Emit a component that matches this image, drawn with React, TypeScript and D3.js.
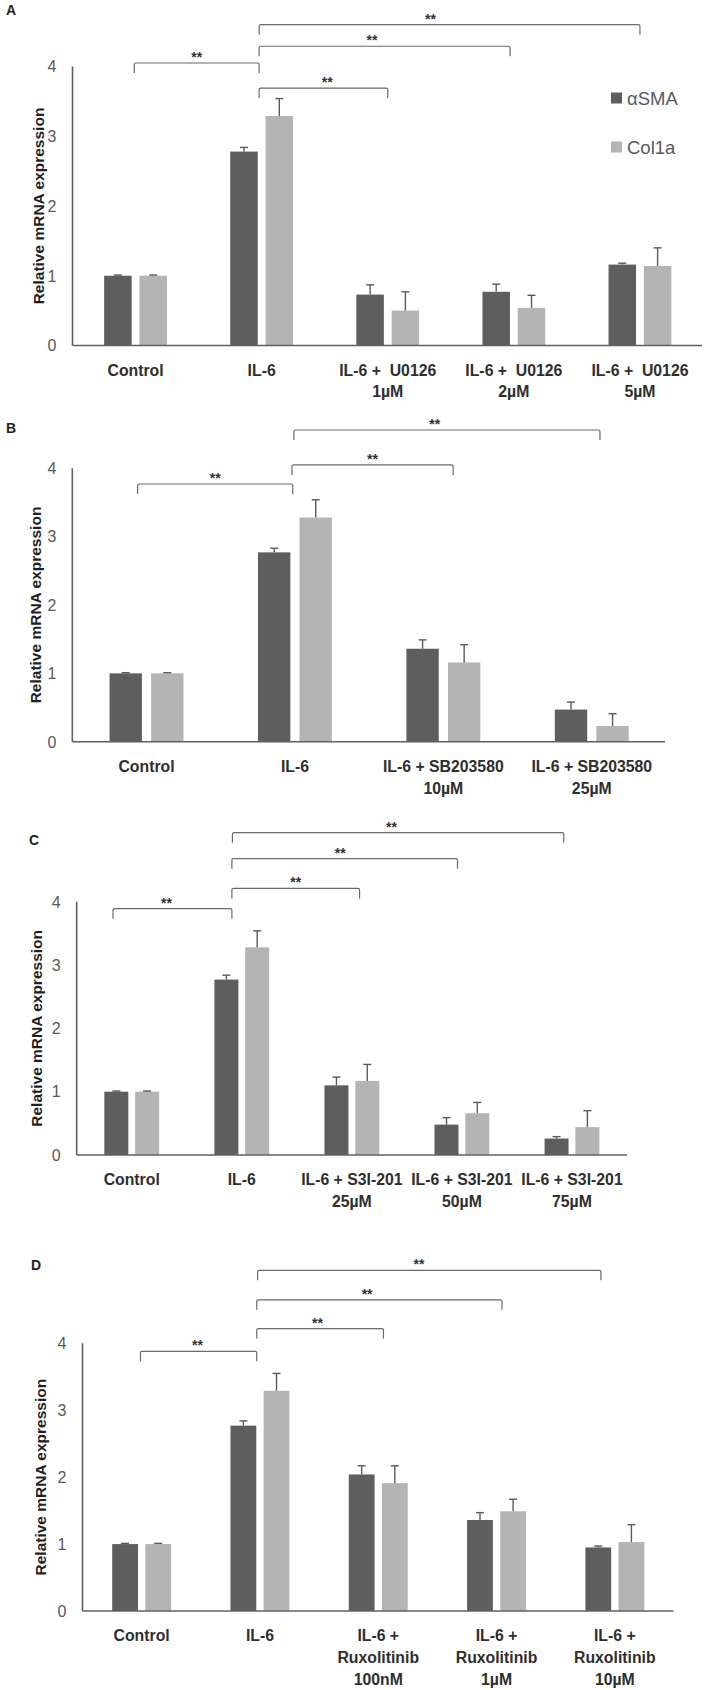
import React from "react";
import * as d3 from "d3";

// ---------- DATA ----------
const seriesNames = ["αSMA", "Col1a"];
const yTicks = [0, 1, 2, 3, 4];

const categoriesA = [["Control"], ["IL-6"], ["IL-6 +\u00A0 U0126", "1µM"], ["IL-6 +\u00A0 U0126", "2µM"], ["IL-6 +\u00A0 U0126", "5µM"]];
const smaA = [1.0, 2.78, 0.73, 0.77, 1.16];
const smaErrA = [0.01, 0.06, 0.14, 0.11, 0.02];
const colA = [1.0, 3.29, 0.5, 0.54, 1.14];
const colErrA = [0.01, 0.25, 0.27, 0.18, 0.26];

const categoriesB = [["Control"], ["IL-6"], ["IL-6 + SB203580", "10µM"], ["IL-6 + SB203580", "25µM"]];
const smaB = [1.0, 2.77, 1.36, 0.47];
const smaErrB = [0.01, 0.06, 0.13, 0.11];
const colB = [1.0, 3.28, 1.16, 0.23];
const colErrB = [0.01, 0.26, 0.26, 0.18];

const categoriesC = [["Control"], ["IL-6"], ["IL-6 + S3I-201", "25µM"], ["IL-6 + S3I-201", "50µM"], ["IL-6 + S3I-201", "75µM"]];
const smaC = [1.0, 2.77, 1.1, 0.48, 0.26];
const smaErrC = [0.01, 0.07, 0.13, 0.11, 0.03];
const colC = [1.0, 3.28, 1.17, 0.66, 0.44];
const colErrC = [0.01, 0.26, 0.26, 0.17, 0.26];

const categoriesD = [["Control"], ["IL-6"], ["IL-6 +", "Ruxolitinib", "100nM"], ["IL-6 +", "Ruxolitinib", "1µM"], ["IL-6 +", "Ruxolitinib", "10µM"]];
const smaD = [1.0, 2.77, 2.04, 1.36, 0.95];
const smaErrD = [0.01, 0.07, 0.13, 0.11, 0.02];
const colD = [1.0, 3.29, 1.91, 1.49, 1.03];
const colErrD = [0.01, 0.26, 0.26, 0.18, 0.26];

// significance brackets: from/to category, level (in y units), label
const bracketsA = [
  { from: 0, to: 1, level: 4.05, label: "**" },
  { from: 1, to: 2, level: 3.69, label: "**" },
  { from: 1, to: 3, level: 4.29, label: "**" },
  { from: 1, to: 4, level: 4.6, label: "**" },
];
const bracketsB = [
  { from: 0, to: 1, level: 3.77, label: "**" },
  { from: 1, to: 2, level: 4.05, label: "**" },
  { from: 1, to: 3, level: 4.56, label: "**" },
];
const bracketsC = [
  { from: 0, to: 1, level: 3.89, label: "**" },
  { from: 1, to: 2, level: 4.21, label: "**" },
  { from: 1, to: 3, level: 4.68, label: "**" },
  { from: 1, to: 4, level: 5.09, label: "**" },
];
const bracketsD = [
  { from: 0, to: 1, level: 3.88, label: "**" },
  { from: 1, to: 2, level: 4.22, label: "**" },
  { from: 1, to: 3, level: 4.65, label: "**" },
  { from: 1, to: 4, level: 5.09, label: "**" },
];

// ---------- LAYOUT / STYLE ----------
const W = 706;
const H = 1690;
const DARK = "#5e5e5e";
const LIGHT = "#b4b4b4";
const AXIS = "#606060";
const FONT = "'Liberation Sans', Arial, sans-serif";

// bracket end nudges (fraction of band step) and star position along bracket
const bracketNudgeA = [[-0.01, -0.02, 0.5], [-0.02, 0.0, 0.53], [-0.02, -0.03, 0.45], [-0.02, 0.0, 0.45]];
const bracketNudgeB = [[-0.06, -0.015, 0.5], [-0.02, 0.066, 0.5], [-0.007, 0.055, 0.46]];
const bracketNudgeC = [[-0.17, -0.09, 0.45], [-0.09, 0.07, 0.5], [-0.09, -0.04, 0.48], [-0.085, -0.075, 0.48]];
const bracketNudgeD = [[-0.01, -0.027, 0.49], [-0.027, 0.044, 0.48], [-0.027, 0.046, 0.45], [-0.02, -0.118, 0.47]];

const panels = [
  { letter: "A", lx: 6, ly: 10, left: 72.5, right: 703, axisEnd: 702, y0: 345.5, y4: 66.5, titleX: 38,
    cats: categoriesA, sma: smaA, smaErr: smaErrA, col: colA, colErr: colErrA, brackets: bracketsA, nudge: bracketNudgeA, legend: true },
  { letter: "B", lx: 6, ly: 428, left: 72.3, right: 666, axisEnd: 665, y0: 741.7, y4: 468.3, titleX: 35,
    cats: categoriesB, sma: smaB, smaErr: smaErrB, col: colB, colErr: colErrB, brackets: bracketsB, nudge: bracketNudgeB, legend: false },
  { letter: "C", lx: 29, ly: 840, left: 76.7, right: 627, axisEnd: 627, y0: 1155, y4: 901.7, titleX: 36,
    cats: categoriesC, sma: smaC, smaErr: smaErrC, col: colC, colErr: colErrC, brackets: bracketsC, nudge: bracketNudgeC, legend: false },
  { letter: "D", lx: 31, ly: 1265, left: 82.5, right: 674, axisEnd: 673.5, y0: 1611, y4: 1343.3, titleX: 40,
    cats: categoriesD, sma: smaD, smaErr: smaErrD, col: colD, colErr: colErrD, brackets: bracketsD, nudge: bracketNudgeD, legend: false },
];

function Panel({ p }: { p: any }) {
  const n = p.cats.length;
  const x = d3.scaleBand<number>().domain(d3.range(n)).range([p.left, p.right]).paddingInner(0).paddingOuter(0);
  const y = d3.scaleLinear().domain([0, 4]).range([p.y0, p.y4]);
  const step = x.step();
  const bw = step * 0.218;
  const gap = step * 0.062;
  const sub = d3.scaleOrdinal<string, number>().domain(seriesNames).range([-gap / 2 - bw, gap / 2]);
  const center = (i: number) => (x(i) as number) + step / 2;
  const series = [
    { name: seriesNames[0], vals: p.sma, errs: p.smaErr, color: DARK },
    { name: seriesNames[1], vals: p.col, errs: p.colErr, color: LIGHT },
  ];
  const tick = 10;
  return (
    <g>
      <text x={p.lx} y={p.ly + 5} fontFamily={FONT} fontWeight="bold" fontSize={14} fill="#222">{p.letter}</text>
      {/* y title */}
      <text
        transform={`translate(${p.titleX},${(p.y0 + p.y4) / 2}) rotate(-90)`}
        textAnchor="middle"
        dominantBaseline="central"
        fontFamily={FONT}
        fontWeight="bold"
        fontSize={15.5}
        fill="#1f1f1f"
      >
        Relative mRNA expression
      </text>
      {/* y tick labels */}
      {yTicks.map((t) => (
        <text key={t} x={p.left - 16} y={y(t) + 5.8} textAnchor="end" fontFamily={FONT} fontSize={16} fill="#595959">
          {t}
        </text>
      ))}
      {/* bars */}
      {series.map((s) =>
        s.vals.map((v: number, i: number) => {
          const bx = center(i) + (sub(s.name) as number);
          const top = y(v + s.errs[i]);
          const cx = bx + bw / 2;
          return (
            <g key={s.name + i}>
              <rect x={bx} y={y(v)} width={bw} height={y(0) - y(v)} fill={s.color} />
              <line x1={cx} x2={cx} y1={y(v)} y2={top} stroke="#5a5a5a" strokeWidth={1.4} />
              <line x1={cx - 4} x2={cx + 4} y1={top} y2={top} stroke="#5a5a5a" strokeWidth={1.4} />
            </g>
          );
        })
      )}
      {/* axes */}
      <line x1={p.left} x2={p.left} y1={y(4)} y2={y(0)} stroke={AXIS} strokeWidth={1.6} />
      <line x1={p.left} x2={p.axisEnd} y1={y(0)} y2={y(0)} stroke={AXIS} strokeWidth={1.6} />
      {/* x labels */}
      {p.cats.map((lines: string[], i: number) => (
        <text key={i} textAnchor="middle" fontFamily={FONT} fontWeight="bold" fontSize={15.8} fill="#2e2e2e">
          {lines.map((l, k) => (
            <tspan key={k} x={center(i)} y={p.y0 + 24.5 + k * 21.7 + 5.6}>
              {l}
            </tspan>
          ))}
        </text>
      ))}
      {/* brackets */}
      {p.brackets.map((b: any, k: number) => {
        const [nf, nt, sa] = p.nudge[k];
        const x1 = center(b.from) + nf * step;
        const x2 = center(b.to) + nt * step;
        const ly = y(b.level);
        const path = d3.path();
        path.moveTo(x1, ly + tick);
        path.lineTo(x1, ly + 1.5);
        path.quadraticCurveTo(x1, ly, x1 + 1.5, ly);
        path.lineTo(x2 - 1.5, ly);
        path.quadraticCurveTo(x2, ly, x2, ly + 1.5);
        path.lineTo(x2, ly + tick);
        return (
          <g key={"b" + k}>
            <path d={path.toString()} fill="none" stroke="#6a6a6a" strokeWidth={1.2} />
            <text x={x1 + (x2 - x1) * sa} y={ly - 1} textAnchor="middle" fontFamily={FONT} fontWeight="bold" fontSize={14} fill="#333">
              {b.label}
            </text>
          </g>
        );
      })}
      {/* legend */}
      {p.legend &&
        series.map((s, k) => (
          <g key={"lg" + k}>
            <rect x={611} y={92.5 + k * 49} width={11} height={11} fill={s.color} />
            <text x={627} y={98 + k * 49 + 6.5} fontFamily={FONT} fontSize={18.5} fill="#595959">
              {s.name}
            </text>
          </g>
        ))}
    </g>
  );
}

export default function App() {
  return (
    <svg
      width={W}
      height={H}
      viewBox={`0 0 ${W} ${H}`}
      style={{ position: "absolute", left: 0, top: 0, background: "#fff" }}
    >
      <rect x={0} y={0} width={W} height={H} fill="#fff" />
      {panels.map((p) => (
        <Panel key={p.letter} p={p} />
      ))}
    </svg>
  );
}
